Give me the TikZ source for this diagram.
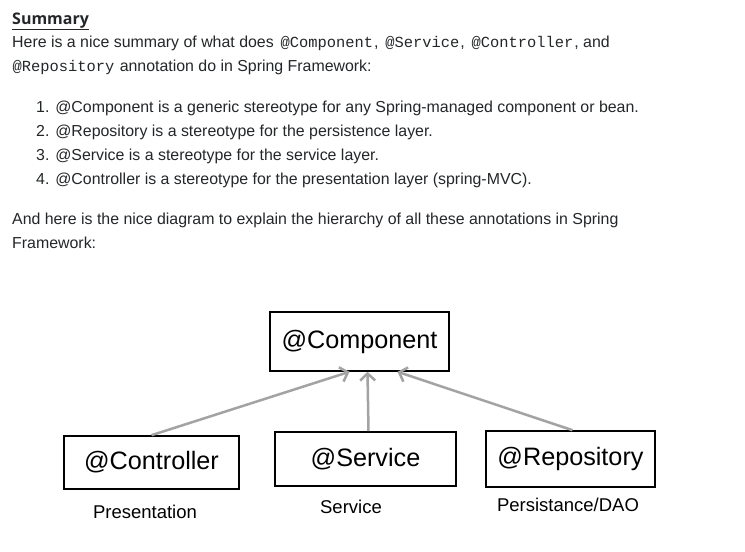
\documentclass[tikz,border=0pt]{standalone}
\usepackage{fontspec}
\setmainfont{Liberation Sans}
\setmonofont{Liberation Mono}
\newfontfamily\headfont{Open Sans}
\usetikzlibrary{arrows.meta}

\definecolor{textgray}{HTML}{242729}
\definecolor{arrowgray}{HTML}{A3A3A3}

\newcommand{\code}[1]{\kern2.5pt\relax{\fontsize{15.4}{16}\selectfont\ttfamily #1}\kern1pt\relax}

\tikzset{
  para/.style={anchor=base west, inner sep=0pt, text=textgray,
    font=\fontsize{15.9}{18}\selectfont},
  annot/.style={draw, line width=1.6pt, inner sep=0pt,
    font=\fontsize{25.2}{28}\selectfont},
  layer/.style={inner sep=0pt, font=\fontsize{18.5}{22}\selectfont},
  inherit/.style={draw=arrowgray, line width=2.5pt,
    -{Straight Barb[length=7pt,width=15pt]}},
}

\begin{document}
\begin{tikzpicture}[x=1pt,y=-1pt]
\useasboundingbox[fill=white] (0,0) rectangle (745,552);

\node[para, font=\headfont\bfseries\fontsize{16}{18}\selectfont] (title) at (12,24) {\underline{Summary}};
\node[para] (intro1) at (12,47) {Here is a nice summary of what does \code{@Component}, \code{@Service}, \code{@Controller}, and};
\node[para] (intro2) at (10,71) {\code{@Repository} annotation do in Spring Framework:};

\node[para] (item1) at (36,112) {1. @Component is a generic stereotype for any Spring-managed component or bean.};
\node[para] (item2) at (36,136) {2. @Repository is a stereotype for the persistence layer.};
\node[para] (item3) at (36,160) {3. @Service is a stereotype for the service layer.};
\node[para] (item4) at (36,184) {4. @Controller is a stereotype for the presentation layer (spring-MVC).};

\node[para] (outro1) at (12,224) {And here is the nice diagram to explain the hierarchy of all these annotations in Spring};
\node[para] (outro2) at (12,248) {Framework:};

\node[annot, minimum width=179pt, minimum height=59pt] (comp) at (359.5,341.5) {@Component};
\node[annot, minimum width=175pt, minimum height=53pt] (ctrl) at (151.5,462.5) {@Controller};
\node[annot, minimum width=181pt, minimum height=54pt] (svc) at (365.5,459) {@Service};
\node[annot, minimum width=169pt, minimum height=56pt] (repo) at (570.5,459) {@Repository};

\node[layer] (ctrllbl) at (145,512) {Presentation};
\node[layer] (svclbl) at (351,507) {Service};
\node[layer] (repolbl) at (568,505) {Persistance/DAO};

\draw[inherit] (ctrl.north) -- ([xshift=-10pt]comp.south);
\draw[inherit] ([xshift=3pt]svc.north) -- ([xshift=8pt]comp.south);
\draw[inherit] ([xshift=2pt]repo.north) -- ([xshift=38pt]comp.south);
\end{tikzpicture}
\end{document}
